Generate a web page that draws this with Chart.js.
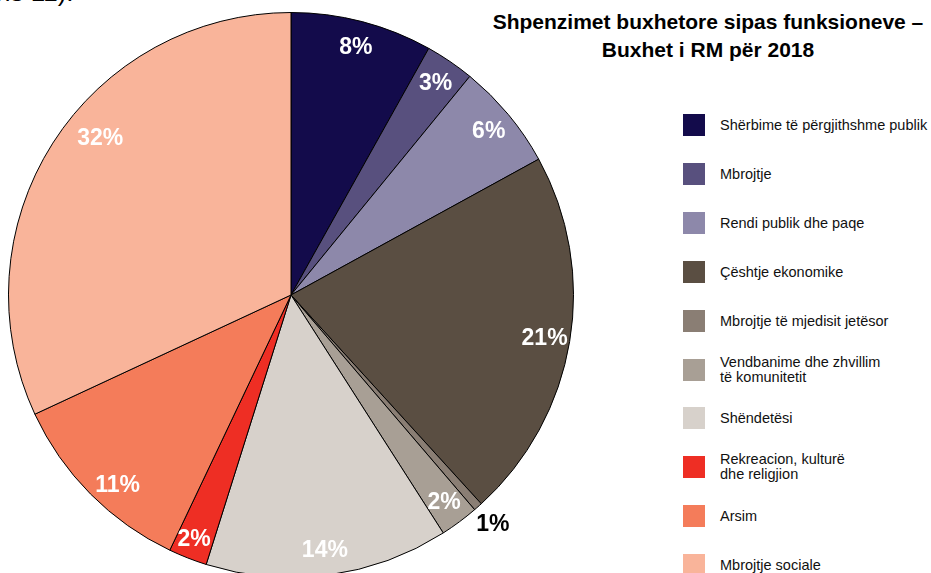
<!DOCTYPE html>
<html>
<head>
<meta charset="utf-8">
<script src="https://cdn.jsdelivr.net/npm/chart.js@4/dist/chart.umd.min.js"></script>
<style>
  html, body { margin:0; padding:0; background:#fff; width:931px; height:573px; overflow:hidden; position:relative; font-family:"Liberation Sans", Arial, sans-serif; }
  #pieWrap { position:absolute; left:8px; top:12px; width:566px; height:566px; }
  #title { position:absolute; left:480px; top:8px; width:456px; text-align:center; font-weight:bold; font-size:21px; line-height:28px; color:#000; }
  #frag { position:absolute; left:-4px; top:-21px; font-size:26px; line-height:26px; color:#000; white-space:nowrap; }
  .lg { position:absolute; left:683px; height:22px; display:flex; align-items:center; }
  .sw { width:22px; height:22px; flex:0 0 22px; }
  .tx { margin-left:15px; font-size:14.5px; line-height:15px; color:#111; white-space:nowrap; }
</style>
</head>
<body>
<div id="frag">ns 11).</div>
<div id="title">Shpenzimet buxhetore sipas funksioneve –<br>Buxhet i RM për 2018</div>
<div id="pieWrap"><canvas id="c"></canvas></div>
<div id="legend"></div>
<script>
// ---- data ----
const categories = [
  ['Shërbime të përgjithshme publik'],
  ['Mbrojtje'],
  ['Rendi publik dhe paqe'],
  ['Çështje ekonomike'],
  ['Mbrojtje të mjedisit jetësor'],
  ['Vendbanime dhe zhvillim', 'të komunitetit'],
  ['Shëndetësi'],
  ['Rekreacion, kulturë', 'dhe religjion'],
  ['Arsim'],
  ['Mbrojtje sociale']
];
const shares = [8.1, 2.8, 6.1, 21.2, 0.5, 2.2, 13.9, 2.2, 11.0, 31.9];
const colors = ['#130b4b', '#58507e', '#8d88aa', '#5a4e42', '#8a7e74', '#a89f95', '#d7d1cb', '#ee2e24', '#f47c5a', '#f9b49a'];

// ---- legend (HTML) ----
const legend = document.getElementById('legend');
categories.forEach((lines, i) => {
  const row = document.createElement('div');
  row.className = 'lg';
  row.style.top = Math.round(114 + i * 48.9) + 'px';
  const sw = document.createElement('div');
  sw.className = 'sw';
  sw.style.background = colors[i];
  const tx = document.createElement('div');
  tx.className = 'tx';
  tx.innerHTML = lines.join('<br>');
  row.appendChild(sw); row.appendChild(tx);
  legend.appendChild(row);
});

// ---- percentage labels plugin ----
const pctLabels = {
  id: 'pctLabels',
  afterDatasetsDraw(chart, args, opts) {
    const ctx = chart.ctx;
    const meta = chart.getDatasetMeta(0);
    const data = chart.data.datasets[0].data;
    ctx.save();
    ctx.font = 'bold 23px "Liberation Sans", Arial, sans-serif';
    ctx.textAlign = 'center';
    ctx.textBaseline = 'middle';
    meta.data.forEach((arc, i) => {
      const p = arc.getProps(['x', 'y', 'startAngle', 'endAngle', 'outerRadius'], true);
      const v = data[i];
      const small = v < 1;
      const mid = (p.startAngle + p.endAngle) / 2;
      const r = p.outerRadius * (small ? opts.outside : opts.inside);
      let x = p.x + Math.cos(mid) * r;
      let y = p.y + Math.sin(mid) * r;
      const n = opts.nudge[i];
      if (n) { x += n[0]; y += n[1]; }
      ctx.fillStyle = small ? '#000' : '#fff';
      ctx.fillText(Math.round(v) + '%', x, y + 1);
    });
    ctx.restore();
  }
};

new Chart(document.getElementById('c'), {
  type: 'pie',
  data: {
    labels: categories.map(l => l.join(' ')),
    datasets: [{
      data: shares,
      backgroundColor: colors,
      borderColor: '#000',
      borderWidth: 1
    }]
  },
  options: {
    responsive: true,
    maintainAspectRatio: false,
    animation: false,
    layout: { padding: 0 },
    plugins: {
      legend: { display: false },
      tooltip: { enabled: false },
      title: { display: false },
      pctLabels: { inside: 0.91, outside: 1.08, nudge: { 7: [-3, 4], 8: [9, 9], 9: [26, -19] } }
    }
  },
  plugins: [pctLabels]
});
</script>
</body>
</html>
